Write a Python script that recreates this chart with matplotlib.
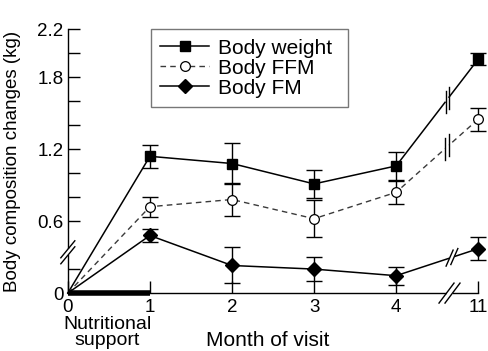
import matplotlib
matplotlib.use("Agg")
import matplotlib.pyplot as plt
import numpy as np

plt.rcParams["font.family"] = ["Liberation Sans", "DejaVu Sans"]

# months of visit (11 is drawn after an axis break, at slot 5)
month_labels = ["0", "1", "2", "3", "4", "11"]
slots = [0, 1, 2, 3, 4, 5]

weight_mean = [0, 1.14, 1.08, 0.91, 1.06, 1.95]
weight_err = [0, 0.095, 0.17, 0.12, 0.12, 0.05]
ffm_mean = [0, 0.72, 0.78, 0.62, 0.84, 1.45]
ffm_err = [0, 0.085, 0.14, 0.155, 0.095, 0.095]
fm_mean = [0, 0.48, 0.23, 0.20, 0.145, 0.37]
fm_err = [0, 0.055, 0.15, 0.10, 0.075, 0.095]

ytick_pos = [0, 0.2, 0.6, 0.8, 1.0, 1.2, 1.4, 1.6, 1.8, 2.0, 2.2]
ytick_lab = ["0", "", "0.6", "", "", "1.2", "", "", "1.8", "", "2.2"]

fig = plt.figure(figsize=(4.88, 3.51), dpi=100)
ax = fig.add_axes([0.139, 0.165, 0.841, 0.752])
ax.set_xlim(0, 5)
ax.set_ylim(0, 2.2)

common = dict(color="black", capsize=5.8, elinewidth=1, capthick=1, lw=1.1,
              clip_on=False, zorder=3)
ax.errorbar(slots[1:], weight_mean[1:], yerr=weight_err[1:], fmt="none", **common)
ax.errorbar(slots[1:], ffm_mean[1:], yerr=ffm_err[1:], fmt="none", **common)
ax.errorbar(slots[1:], fm_mean[1:], yerr=fm_err[1:], fmt="none", **common)

every = list(range(1, 6))
ax.plot(slots, weight_mean, "-", marker="s", color="black", mfc="black", ms=6.5,
        lw=1.1, clip_on=False, zorder=4, label="Body weight", markevery=every)
ax.plot(slots, ffm_mean, "--", marker="o", color="#3a3a3a", mfc="white", mec="black",
        ms=7, mew=0.9, lw=1.0, dashes=(4, 3), clip_on=False, zorder=4, label="Body FFM",
        markevery=every)
ax.plot(slots, fm_mean, "-", marker="D", color="black", mfc="black", ms=6.8,
        lw=1.1, clip_on=False, zorder=4, label="Body FM", markevery=every)

# nutritional support period
ax.plot([0, 1], [0, 0], color="black", lw=4, solid_capstyle="butt", clip_on=False, zorder=5)

for side in ["top", "right"]:
    ax.spines[side].set_visible(False)
ax.spines["left"].set_linewidth(1)
ax.spines["bottom"].set_linewidth(1)

ax.set_xticks(slots)
ax.set_xticklabels(month_labels, fontsize=13.5)
ax.set_yticks(ytick_pos)
ax.set_yticklabels(ytick_lab, fontsize=13.5)
ax.tick_params(axis="x", direction="in", length=9, width=1, pad=4)
ax.tick_params(axis="y", direction="in", length=8.5, width=1, pad=3)

ax.set_ylabel("Body composition changes (kg)", fontsize=13.5)
ax.yaxis.set_label_coords(-0.115, 0.5)
ax.set_xlabel("Month of visit", fontsize=15, va="baseline")
ax.xaxis.set_label_coords(0.487, -0.2)
ax.text(0.48, -0.088, "Nutritional\nsupport", transform=ax.get_xaxis_transform(),
        ha="center", va="top", fontsize=14, linespacing=0.9)

fig.canvas.draw()
inv = ax.transData.inverted()


def break_mark(p0, p1, frac, stroke, gap=5, lw=1.0):
    # two parallel strokes crossing the segment p0-p1 (data coords),
    # with the segment blanked out between them; stroke and gap in pixels
    a = ax.transData.transform(p0)
    b = ax.transData.transform(p1)
    c = a + frac * (b - a)
    u = (b - a) / np.hypot(*(b - a))
    s = np.asarray(stroke, dtype=float) / 2
    blank = inv.transform(np.array([c - u * gap / 2, c + u * gap / 2]))
    ax.plot(blank[:, 0], blank[:, 1], color="white", lw=3, solid_capstyle="butt",
            clip_on=False, zorder=5.5)
    for k in (-gap / 2, gap / 2):
        m = c + u * k
        d = inv.transform(np.array([m - s, m + s]))
        ax.plot(d[:, 0], d[:, 1], color="black", lw=lw, clip_on=False, zorder=6)


# axis breaks
break_mark((0, 0.2), (0, 0.6), 0.35, (14, 17), gap=6)
break_mark((4, 0), (5, 0), 0.65, (15, 20), gap=6)
# line breaks between month 4 and 11
break_mark((4, weight_mean[4]), (5, weight_mean[5]), 0.62, (0, 22), gap=5)
break_mark((4, ffm_mean[4]), (5, ffm_mean[5]), 0.62, (0, 22), gap=5)
break_mark((4, fm_mean[4]), (5, fm_mean[5]), 0.68, (7, 16), gap=5)

leg = ax.legend(loc="upper left", bbox_to_anchor=(0.202, 0.663, 0.48, 0.337),
                mode="expand", fontsize=15,
                frameon=True, fancybox=False, edgecolor="#555555",
                handlelength=2.35, handletextpad=0.45, borderpad=0.45,
                labelspacing=0.05, borderaxespad=0)
leg.get_frame().set_linewidth(1)

fig.savefig("out.png", dpi=100)
